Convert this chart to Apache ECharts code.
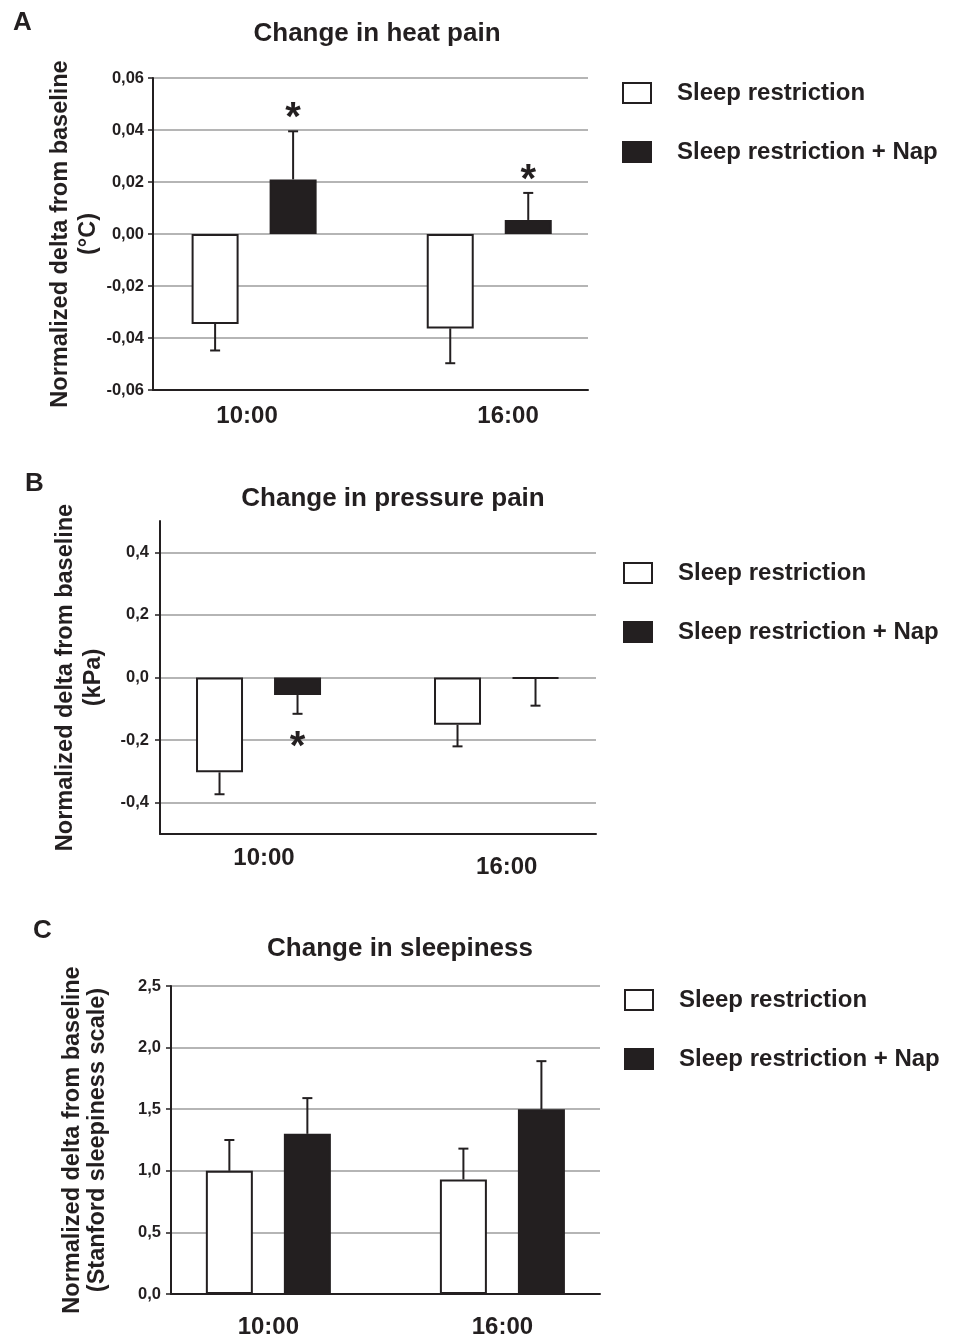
<!DOCTYPE html>
<html><head><meta charset="utf-8">
<script src="https://cdn.jsdelivr.net/npm/echarts@6/dist/echarts.min.js"></script>
<style>html,body{margin:0;padding:0;background:#fff}#c{width:956px;height:1340px}</style>
</head><body><div id="c"></div>
<script>
// ---------- data ----------
const categories = ['10:00', '16:00'];
const seriesNames = ['Sleep restriction', 'Sleep restriction + Nap'];

// A: Change in heat pain (°C)
const heatSR = [-0.0346, -0.0363];
const heatSRErr = [0.0102, 0.0134];
const heatNap = [0.0210, 0.0054];
const heatNapErr = [0.0185, 0.0104];
const heatSRSig = [false, false];
const heatNapSig = [true, true];
const heatTicks = [-0.06, -0.04, -0.02, 0, 0.02, 0.04, 0.06];

// B: Change in pressure pain (kPa)
const pressSR = [-0.303, -0.151];
const pressSRErr = [0.070, 0.069];
const pressNap = [-0.056, -0.003];
const pressNapErr = [0.060, 0.087];
const pressSRSig = [false, false];
const pressNapSig = [true, false];
const pressTicks = [-0.4, -0.2, 0, 0.2, 0.4];

// C: Change in sleepiness (Stanford sleepiness scale)
const sleepSR = [1.00, 0.93];
const sleepSRErr = [0.25, 0.25];
const sleepNap = [1.30, 1.50];
const sleepNapErr = [0.29, 0.39];
const sleepSRSig = [false, false];
const sleepNapSig = [false, false];
const sleepTicks = [0, 0.5, 1.0, 1.5, 2.0, 2.5];

// ---------- layout / style ----------
const FONT = '"Liberation Sans", Arial, sans-serif';
const INK = '#231f20';
const GRIDC = '#9d9d9d';
const BARW = 47, BARGAP = '66%', HALF = 39;
const STAR_FONT = 40;

const panels = [
  { letter: 'A', letterPos: [13, 10], title: 'Change in heat pain', titlePos: [377, 21],
    grid: { left: 153, right: 368, top: 78, bottom: 950 },
    xMin: -0.43, xMax: 1.42, yMin: -0.06, yMax: 0.06, ticks: heatTicks, dec: 2,
    name: 'Normalized delta from baseline\n(°C)', nameGap: 47, lineH: 28, labelMargin: 9,
    xLabelAt: [-0.03, 1.08], xMargin: 14, xPad: [0, 0],
    sr: heatSR, srErr: heatSRErr, srSig: heatSRSig, nap: heatNap, napErr: heatNapErr, napSig: heatNapSig,
    legend: [622, 81] },
  { letter: 'B', letterPos: [25, 471], title: 'Change in pressure pain', titlePos: [393, 486],
    grid: { left: 160, right: 360, top: 521, bottom: 506 },
    xMin: -0.414, xMax: 1.418, yMin: -0.5, yMax: 0.5, ticks: pressTicks, dec: 1,
    name: 'Normalized delta from baseline\n(kPa)', nameGap: 52, lineH: 28, labelMargin: 11,
    xLabelAt: [0.023, 1.043], xMargin: 12, xPad: [0, 9],
    sr: pressSR, srErr: pressSRErr, srSig: pressSRSig, nap: pressNap, napErr: pressNapErr, napSig: pressNapSig,
    legend: [623, 561] },
  { letter: 'C', letterPos: [33, 918], title: 'Change in sleepiness', titlePos: [400, 936],
    grid: { left: 171, right: 356, top: 986, bottom: 46 },
    xMin: -0.416, xMax: 1.417, yMin: 0, yMax: 2.5, ticks: sleepTicks, dec: 1,
    name: 'Normalized delta from baseline\n(Stanford sleepiness scale)', nameGap: 61, lineH: 25, labelMargin: 10,
    xLabelAt: [0, 1], xMargin: 21, xPad: [0, 0],
    sr: sleepSR, srErr: sleepSRErr, srSig: sleepSRSig, nap: sleepNap, napErr: sleepNapErr, napSig: sleepNapSig,
    legend: [624, 988] }
];

function fmtY(dec) {
  return v => { if (Math.abs(v) < 1e-9) v = 0; return v.toFixed(dec).replace('.', ','); };
}

function errSeries(k, vals, errs, sig, side) {
  return {
    type: 'custom', xAxisIndex: k, yAxisIndex: k, z: 5, silent: true, clip: false,
    data: vals.map((v, i) => [i, v, errs[i], sig[i] ? 1 : 0]),
    encode: { x: 0, y: 1 },
    renderItem(params, api) {
      const x = api.value(0), v = api.value(1), e = api.value(2), s = api.value(3);
      const dir = v < 0 ? -1 : 1;
      const a = api.coord([x, v]);
      const b = api.coord([x, v + dir * e]);
      const cx = a[0] + side * HALF;
      const children = [
        { type: 'line', shape: { x1: cx, y1: a[1], x2: cx, y2: b[1] }, style: { stroke: INK, lineWidth: 2 } },
        { type: 'line', shape: { x1: cx - 5, y1: b[1], x2: cx + 5, y2: b[1] }, style: { stroke: INK, lineWidth: 2 } }
      ];
      if (s) {
        const yc = b[1] - dir * 23 + STAR_FONT * 0.27;
        children.push({ type: 'text', x: cx, y: yc,
          style: { text: '*', fill: INK, fontSize: STAR_FONT, fontWeight: 'bold', fontFamily: FONT,
                   align: 'center', verticalAlign: 'middle' } });
      }
      return { type: 'group', children };
    }
  };
}

const title = [], grid = [], xAxis = [], yAxis = [], series = [], legend = [];
panels.forEach((p, k) => {
  title.push({ text: p.letter, left: p.letterPos[0], top: p.letterPos[1], padding: 0,
    textStyle: { fontSize: 26, fontWeight: 'bold', fontFamily: FONT, color: INK } });
  title.push({ text: p.title, left: p.titlePos[0], top: p.titlePos[1], padding: 0, textAlign: 'center',
    textStyle: { fontSize: 26, fontWeight: 'bold', fontFamily: FONT, color: INK } });
  grid.push(Object.assign({ outerBoundsMode: 'none', containLabel: false }, p.grid));
  xAxis.push({
    type: 'value', gridIndex: k, min: p.xMin, max: p.xMax,
    axisLine: { onZero: false, lineStyle: { color: INK, width: 2 } },
    axisTick: { show: false }, splitLine: { show: false },
    axisLabel: {
      customValues: p.xLabelAt, margin: p.xMargin,
      formatter: v => { const i = v < 0.5 ? 0 : 1; return '{c' + i + '|' + categories[i] + '}'; },
      rich: {
        c0: { fontSize: 24, fontWeight: 'bold', fontFamily: FONT, color: INK, padding: [p.xPad[0], 0, 0, 0] },
        c1: { fontSize: 24, fontWeight: 'bold', fontFamily: FONT, color: INK, padding: [p.xPad[1], 0, 0, 0] }
      }
    }
  });
  yAxis.push({
    type: 'value', gridIndex: k, min: p.yMin, max: p.yMax,
    name: p.name, nameLocation: 'middle', nameRotate: 90, nameGap: p.nameGap,
    nameTextStyle: { fontSize: 23.5, fontWeight: 'bold', fontFamily: FONT, color: INK, lineHeight: p.lineH, align: 'center' },
    axisLine: { show: true, onZero: false, lineStyle: { color: INK, width: 2 } },
    axisTick: { show: true, inside: false, length: 5, customValues: p.ticks, lineStyle: { color: INK, width: 1.5 } },
    axisLabel: { customValues: p.ticks, margin: p.labelMargin, formatter: fmtY(p.dec),
      fontSize: 16.5, fontWeight: 'bold', fontFamily: FONT, color: INK },
    splitLine: { show: true, lineStyle: { color: GRIDC, width: 1.6 } }
  });
  series.push({
    name: seriesNames[0], type: 'bar', xAxisIndex: k, yAxisIndex: k, barWidth: BARW, barGap: BARGAP,
    data: p.sr.map((v, i) => [i, v]),
    itemStyle: { color: '#ffffff', borderColor: INK, borderWidth: 2 }, silent: true
  });
  series.push({
    name: seriesNames[1], type: 'bar', xAxisIndex: k, yAxisIndex: k, barWidth: BARW, barGap: BARGAP,
    data: p.nap.map((v, i) => [i, v]),
    itemStyle: { color: INK, borderColor: INK, borderWidth: 2 }, silent: true
  });
  series.push(errSeries(k, p.sr, p.srErr, p.srSig, -1));
  series.push(errSeries(k, p.nap, p.napErr, p.napSig, 1));
  legend.push({
    left: p.legend[0], top: p.legend[1], orient: 'vertical', icon: 'rect', padding: 0,
    itemWidth: 28, itemHeight: 20, itemGap: 35, selectedMode: false,
    data: seriesNames,
    textStyle: { fontSize: 24, fontWeight: 'bold', fontFamily: FONT, color: INK, padding: [0, 0, 0, 21] }
  });
});

const chart = echarts.init(document.getElementById('c'), null, { renderer: 'canvas' });
chart.setOption({ animation: false, backgroundColor: '#ffffff', title, grid, xAxis, yAxis, series, legend });
</script>
</body></html>
